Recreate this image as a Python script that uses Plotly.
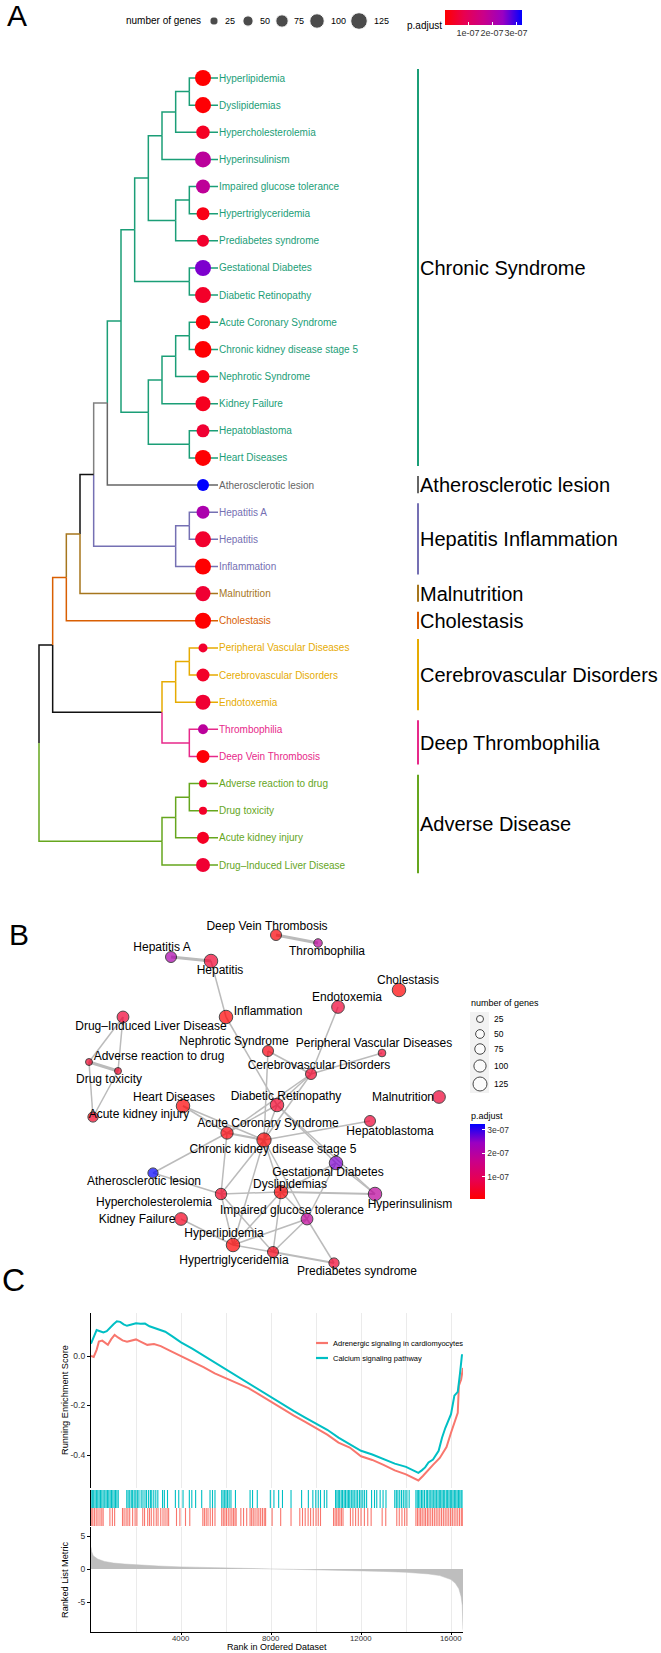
import plotly.graph_objects as go

W, H = 661, 1653
FONT = "Liberation Sans, Arial, sans-serif"

# ---------------- Panel A / B data ----------------
terms = ["Hyperlipidemia", "Dyslipidemias", "Hypercholesterolemia", "Hyperinsulinism",
         "Impaired glucose tolerance", "Hypertriglyceridemia", "Prediabetes syndrome",
         "Gestational Diabetes", "Diabetic Retinopathy", "Acute Coronary Syndrome",
         "Chronic kidney disease stage 5", "Nephrotic Syndrome", "Kidney Failure",
         "Hepatoblastoma", "Heart Diseases", "Atherosclerotic lesion", "Hepatitis A",
         "Hepatitis", "Inflammation", "Malnutrition", "Cholestasis",
         "Peripheral Vascular Diseases", "Cerebrovascular Disorders", "Endotoxemia",
         "Thrombophilia", "Deep Vein Thrombosis", "Adverse reaction to drug",
         "Drug toxicity", "Acute kidney injury", "Drug–Induced Liver Disease"]
gene_count = [118, 118, 88, 118, 94, 82, 71, 118, 118, 100, 129, 82, 106, 82, 118,
              71, 82, 118, 118, 106, 118, 35, 82, 106, 47, 82, 24, 24, 71, 94]
p_adjust = [4e-09, 8e-09, 4.0e-08, 1.9e-07, 1.85e-07, 2.5e-08, 5e-08, 2.6e-07, 4.5e-08,
            1.2e-08, 6e-09, 2e-08, 3.5e-08, 5.5e-08, 6e-09, 3.25e-07, 2.15e-07, 5e-08,
            5e-09, 5.5e-08, 5e-09, 5e-08, 4.5e-08, 5.5e-08, 1.9e-07, 1e-08, 4.5e-08,
            4.5e-08, 4e-08, 5.5e-08]
term_cluster = [0] * 15 + [1] + [2] * 3 + [3] + [4] + [5] * 3 + [6] * 2 + [7] * 4

cluster_names = ["Chronic Syndrome", "Atherosclerotic lesion", "Hepatitis Inflammation",
                 "Malnutrition", "Cholestasis", "Cerebrovascular Disorders",
                 "Deep Thrombophilia", "Adverse Disease"]
cluster_colors = ["#1B9E77", "#666666", "#7570B3", "#A6761D", "#D95F02", "#E6AB02",
                  "#E7298A", "#66A61E"]
BLACK, GREY = "#111111", "#808080"

# hierarchical merges: node, child a, child b, depth level, colour of node's branch
TIP_LEVEL = 12
merges = [
    ("n1", "Hyperlipidemia", "Dyslipidemias", 11, cluster_colors[0]),
    ("n2", "n1", "Hypercholesterolemia", 10, cluster_colors[0]),
    ("n3", "n2", "Hyperinsulinism", 9, cluster_colors[0]),
    ("n4", "Impaired glucose tolerance", "Hypertriglyceridemia", 11, cluster_colors[0]),
    ("n5", "n4", "Prediabetes syndrome", 10, cluster_colors[0]),
    ("n6", "n3", "n5", 8, cluster_colors[0]),
    ("n7", "Gestational Diabetes", "Diabetic Retinopathy", 11, cluster_colors[0]),
    ("n8", "n6", "n7", 7, cluster_colors[0]),
    ("n9", "Acute Coronary Syndrome", "Chronic kidney disease stage 5", 11, cluster_colors[0]),
    ("n10", "n9", "Nephrotic Syndrome", 10, cluster_colors[0]),
    ("n11", "n10", "Kidney Failure", 9, cluster_colors[0]),
    ("n12", "Hepatoblastoma", "Heart Diseases", 11, cluster_colors[0]),
    ("n13", "n11", "n12", 8, cluster_colors[0]),
    ("n14", "n8", "n13", 6, cluster_colors[0]),
    ("n15", "n14", "Atherosclerotic lesion", 5, GREY),
    ("n16", "Hepatitis A", "Hepatitis", 11, cluster_colors[2]),
    ("n17", "n16", "Inflammation", 10, cluster_colors[2]),
    ("n18", "n15", "n17", 4, BLACK),
    ("n19", "n18", "Malnutrition", 3, cluster_colors[3]),
    ("n20", "n19", "Cholestasis", 2, cluster_colors[4]),
    ("n21", "Peripheral Vascular Diseases", "Cerebrovascular Disorders", 11, cluster_colors[5]),
    ("n22", "n21", "Endotoxemia", 10, cluster_colors[5]),
    ("n23", "Thrombophilia", "Deep Vein Thrombosis", 11, cluster_colors[6]),
    ("n24", "n22", "n23", 9, BLACK),
    ("n25", "n20", "n24", 1, BLACK),
    ("n26", "Adverse reaction to drug", "Drug toxicity", 11, cluster_colors[7]),
    ("n27", "n26", "Acute kidney injury", 10, cluster_colors[7]),
    ("n28", "n27", "Drug–Induced Liver Disease", 9, cluster_colors[7]),
    ("root", "n25", "n28", 0, BLACK),
]

# network layout (panel B) coordinates and repelled label coordinates
net_x = [173, 221, 161, 315, 247, 213, 274, 276, 217, 167, 204, 208, 121, 310, 123,
         93, 111, 151, 166, 379, 339, 322, 251, 278, 258, 216, 29, 58, 33, 63]
net_y = [330, 277, 279, 279, 304, 337, 348, 248, 190, 218, 225, 136, 304, 206, 191,
         258, 42, 46, 102, 182, 75, 138, 159, 92, 28, 20, 147, 156, 202, 102]
lab_x = [164, 230, 94, 350, 232, 174, 297, 268, 226, 208, 213, 174, 77, 330, 114,
         84, 102, 160, 208, 343, 348, 314, 259, 287, 267, 207, 99, 49, 79, 91]
lab_y = [319, 270, 288, 290, 296, 346, 357, 258, 182, 209, 235, 127, 305, 217, 183,
         267, 33, 56, 97, 183, 66, 129, 151, 83, 37, 12, 142, 165, 200, 112]
edges = [
    ("Deep Vein Thrombosis", "Thrombophilia", 3.2), ("Hepatitis A", "Hepatitis", 3.2),
    ("Adverse reaction to drug", "Drug toxicity", 3.2),
    ("Dyslipidemias", "Hyperinsulinism", 2.2), ("Hypertriglyceridemia", "Prediabetes syndrome", 2.2),
    ("Acute Coronary Syndrome", "Chronic kidney disease stage 5", 2.2),
    ("Hepatitis", "Inflammation", 1.5), ("Inflammation", "Diabetic Retinopathy", 1.5),
    ("Drug–Induced Liver Disease", "Adverse reaction to drug", 1.5),
    ("Drug–Induced Liver Disease", "Drug toxicity", 1.5),
    ("Adverse reaction to drug", "Acute kidney injury", 1.5), ("Drug toxicity", "Acute kidney injury", 1.5),
    ("Endotoxemia", "Cerebrovascular Disorders", 1.5), ("Nephrotic Syndrome", "Cerebrovascular Disorders", 1.5),
    ("Peripheral Vascular Diseases", "Cerebrovascular Disorders", 1.5),
    ("Cerebrovascular Disorders", "Diabetic Retinopathy", 1.5),
    ("Cerebrovascular Disorders", "Acute Coronary Syndrome", 1.5),
    ("Cerebrovascular Disorders", "Chronic kidney disease stage 5", 1.5),
    ("Nephrotic Syndrome", "Chronic kidney disease stage 5", 1.5),
    ("Heart Diseases", "Acute Coronary Syndrome", 1.5), ("Heart Diseases", "Chronic kidney disease stage 5", 1.5),
    ("Diabetic Retinopathy", "Acute Coronary Syndrome", 1.5),
    ("Diabetic Retinopathy", "Chronic kidney disease stage 5", 1.5),
    ("Diabetic Retinopathy", "Gestational Diabetes", 1.5), ("Diabetic Retinopathy", "Hyperinsulinism", 1.5),
    ("Chronic kidney disease stage 5", "Hepatoblastoma", 1.5),
    ("Atherosclerotic lesion", "Acute Coronary Syndrome", 1.5),
    ("Atherosclerotic lesion", "Hypercholesterolemia", 1.5),
    ("Hypercholesterolemia", "Acute Coronary Syndrome", 1.5),
    ("Hypercholesterolemia", "Chronic kidney disease stage 5", 1.5),
    ("Hypercholesterolemia", "Dyslipidemias", 1.5), ("Hypercholesterolemia", "Hyperlipidemia", 1.5),
    ("Hypercholesterolemia", "Hypertriglyceridemia", 1.5), ("Kidney Failure", "Hyperlipidemia", 1.5),
    ("Dyslipidemias", "Hyperlipidemia", 1.5), ("Dyslipidemias", "Hypertriglyceridemia", 1.5),
    ("Dyslipidemias", "Impaired glucose tolerance", 1.5),
    ("Dyslipidemias", "Chronic kidney disease stage 5", 1.5), ("Dyslipidemias", "Gestational Diabetes", 1.5),
    ("Impaired glucose tolerance", "Hypertriglyceridemia", 1.5),
    ("Impaired glucose tolerance", "Prediabetes syndrome", 1.5),
    ("Impaired glucose tolerance", "Hyperlipidemia", 1.5),
    ("Impaired glucose tolerance", "Gestational Diabetes", 1.5),
    ("Impaired glucose tolerance", "Chronic kidney disease stage 5", 1.5),
    ("Gestational Diabetes", "Hyperinsulinism", 1.5), ("Hyperlipidemia", "Hypertriglyceridemia", 1.5),
    ("Hyperlipidemia", "Chronic kidney disease stage 5", 1.5),
]

size_legend_counts = [25, 50, 75, 100, 125]
padj_ticks = [1e-07, 2e-07, 3e-07]
padj_ticktext = ["1e-07", "2e-07", "3e-07"]

# ---------------- Panel C data (GSEA) ----------------
N_GENES = 16533
rank_ticks = [4000, 8000, 12000, 16000]
cal_rank = [0, 100, 250, 400, 550, 700, 850, 1000, 1150, 1300, 1450, 1600, 1800, 2000, 2200,
            2400, 2600, 2800, 3000, 3300, 3600, 4000, 4500, 5000, 5500, 6000, 6500, 7000,
            7500, 8000, 8500, 9000, 9500, 10000, 10500, 11000, 11500, 12000, 12500, 13000,
            13500, 14000, 14300, 14550, 14700, 14850, 15000, 15200, 15450, 15600, 15750,
            16000, 16150, 16300, 16400, 16490]
cal_es = [0.05, 0.075, 0.105, 0.100, 0.095, 0.100, 0.115, 0.128, 0.140, 0.138, 0.128, 0.122,
          0.127, 0.132, 0.130, 0.131, 0.120, 0.114, 0.110, 0.098, 0.080, 0.055, 0.030, 0.002,
          -0.026, -0.057, -0.085, -0.113, -0.140, -0.167, -0.195, -0.222, -0.248, -0.272,
          -0.298, -0.330, -0.355, -0.383, -0.398, -0.415, -0.435, -0.448, -0.462, -0.472,
          -0.462, -0.450, -0.430, -0.418, -0.383, -0.330, -0.290, -0.235, -0.160, -0.145,
          -0.070, 0.007]
adr_rank = [0, 120, 250, 350, 500, 650, 750, 900, 1050, 1200, 1400, 1600, 1800, 2000, 2200,
            2500, 2800, 3100, 3500, 4000, 4500, 5000, 5500, 6000, 6500, 7000, 7500, 8000,
            8500, 9000, 9500, 10000, 10500, 11000, 11500, 12000, 12500, 13000, 13500, 14000,
            14300, 14550, 14750, 15000, 15200, 15500, 15800, 16000, 16150, 16300, 16350,
            16450, 16533]
adr_es = [0.0, -0.004, 0.025, 0.058, 0.062, 0.050, 0.045, 0.068, 0.085, 0.075, 0.063, 0.058,
          0.062, 0.067, 0.058, 0.045, 0.048, 0.040, 0.022, 0.000, -0.022, -0.045, -0.070,
          -0.090, -0.108, -0.130, -0.157, -0.185, -0.212, -0.240, -0.265, -0.290, -0.318,
          -0.350, -0.370, -0.405, -0.420, -0.440, -0.462, -0.478, -0.490, -0.503, -0.485,
          -0.458, -0.440, -0.412, -0.368, -0.310, -0.270, -0.230, -0.120, -0.095, -0.048]
cal_hits = [5, 60, 120, 180, 240, 300, 360, 420, 480, 540, 610, 670, 730, 790, 850, 910, 970,
            1030, 1090, 1150, 1210, 1590, 1650, 1720, 1790, 1850, 1920, 1990, 2060, 2130, 2230,
            2310, 2400, 2470, 2560, 2640, 2700, 2790, 2880, 2970, 3180, 3260, 3400, 3750, 3900,
            4090, 4370, 4480, 4650, 4920, 5290, 5400, 5510, 5810, 5870, 5940, 6000, 6070, 6140,
            6220, 6420, 7070, 7180, 7390, 7970, 8130, 8340, 8510, 8890, 9360, 9660, 9860, 9990,
            10100, 10200, 10370, 10480, 10870, 10930, 10990, 11050, 11120, 11180, 11250, 11310,
            11380, 11440, 11500, 11570, 11640, 11700, 11780, 11850, 11930, 12000, 12080, 12160,
            12250, 12470, 12600, 12700, 12850, 12980, 13110, 13500, 13570, 13640, 13720, 13800,
            13880, 13960, 14040, 14140, 14440, 14500, 14560, 14620, 14690, 14750, 14820, 14900,
            14960, 15030, 15100, 15160, 15230, 15290, 15350, 15420, 15480, 15540, 15600, 15660,
            15720, 15790, 15850, 15910, 15970, 16030, 16090, 16150, 16210, 16270, 16330, 16390,
            16450, 16490]
adr_hits = [10, 80, 150, 230, 310, 400, 480, 540, 840, 950, 1050, 1400, 1470, 1560, 1640, 1720,
            1850, 1960, 2040, 2300, 2380, 2520, 2600, 2680, 2790, 2900, 2980, 3100, 3200, 3290,
            3380, 3450, 3800, 3950, 4200, 4390, 4970, 5040, 5120, 5200, 5300, 5400, 5510, 5810,
            5880, 5950, 6020, 6100, 6180, 6260, 6330, 6400, 6450, 6660, 6780, 6920, 7070, 7140,
            7210, 7290, 7380, 7460, 7540, 7620, 7700, 7760, 8050, 8430, 8890, 9280, 9400, 9520,
            9650, 9760, 9880, 10000, 10100, 10200, 10780, 10850, 10920, 10990, 11060, 11130,
            11200, 11530, 11640, 11760, 11880, 12000, 12150, 12300, 12450, 12940, 13100, 13590,
            13700, 13820, 13940, 14040, 14440, 14510, 14580, 14650, 14720, 14800, 14870, 14950,
            15020, 15100, 15180, 15260, 15340, 15420, 15500, 15580, 15660, 15740, 15820, 15900,
            15980, 16060, 16140, 16220, 16300, 16380, 16460, 16520]
metric_rank = [0, 30, 100, 300, 600, 1000, 1500, 2000, 3000, 4000, 5000, 6000, 7000, 8000,
               9000, 10000, 11000, 12000, 13000, 14000, 14500, 15000, 15500, 15800, 16000,
               16200, 16350, 16450, 16500, 16533]
metric_val = [3.3, 2.6, 2.0, 1.5, 1.15, 0.9, 0.75, 0.62, 0.45, 0.32, 0.22, 0.14, 0.07, 0.01,
              -0.05, -0.11, -0.18, -0.26, -0.36, -0.5, -0.6, -0.75, -1.0, -1.3, -1.6, -2.2,
              -3.0, -4.2, -5.5, -9.2]
gsea_names = ["Adrenergic signaling in cardiomyocytes", "Calcium signaling pathway"]
gsea_colors = ["#F8766D", "#00BFC4"]

# ---------------- scales ----------------
CS = [[0, "#FF0000"], [0.25, "#E80050"], [0.5, "#CA0089"], [0.75, "#9A00C2"], [1, "#0000FF"]]


def tree_size(c):
    return 6 + 0.085 * c


def net_size(c):
    return 5.25 + 0.07 * c


def lin(p, pa, va, pb, vb):
    return va + (p - pa) * (vb - va) / (pb - pa)


def xdom(p0, p1):
    return [p0 / W, p1 / W]


def ydom(p_top, p_bot):
    return [1 - p_bot / H, 1 - p_top / H]


fig = go.Figure()

# ---------------- Panel A: tree ----------------
pos = {t: (TIP_LEVEL, i) for i, t in enumerate(terms)}
node_col = {t: cluster_colors[term_cluster[i]] for i, t in enumerate(terms)}
for node, a, b, lvl, col in merges:
    pos[node] = (lvl, (pos[a][1] + pos[b][1]) / 2)
    node_col[node] = col
LABEL_LEVEL = 13.1
segs = {}
for node, a, b, lvl, col in merges:
    for ch in (a, b):
        cx, cy = pos[ch]
        xend = LABEL_LEVEL if ch in terms else cx
        sx, sy = segs.setdefault(node_col[ch], ([], []))
        sx += [lvl, lvl, xend, None]
        sy += [pos[node][1], cy, cy, None]
for col, (sx, sy) in segs.items():
    fig.add_trace(go.Scatter(x=sx, y=sy, mode="lines", line=dict(color=col, width=1.5),
                             hoverinfo="skip", xaxis="x", yaxis="y"))

BAR_LEVEL = lin(418, 39, 0, 203, TIP_LEVEL)
GROUP_TEXT_LEVEL = lin(419, 39, 0, 203, TIP_LEVEL)
for k, name in enumerate(cluster_names):
    idx = [i for i, c in enumerate(term_cluster) if c == k]
    fig.add_trace(go.Scatter(x=[BAR_LEVEL, BAR_LEVEL], y=[min(idx) - 0.33, max(idx) + 0.3],
                             mode="lines", line=dict(color=cluster_colors[k], width=2),
                             xaxis="x", yaxis="y", hoverinfo="skip"))
    fig.add_annotation(x=GROUP_TEXT_LEVEL, y=(min(idx) + max(idx)) / 2, xref="x", yref="y",
                       text=name, showarrow=False, xanchor="left", yanchor="middle",
                       borderpad=0, font=dict(size=20, color="black", family=FONT))

fig.add_trace(go.Scatter(x=[TIP_LEVEL] * len(terms), y=list(range(len(terms))), mode="markers",
                         marker=dict(size=[tree_size(c) for c in gene_count], color=p_adjust,
                                     coloraxis="coloraxis", line=dict(width=0), opacity=1),
                         xaxis="x", yaxis="y", text=terms))
for i, t in enumerate(terms):
    fig.add_annotation(x=LABEL_LEVEL, y=i, xref="x", yref="y", text=t, showarrow=False,
                       xanchor="left", yanchor="middle", borderpad=0,
                       font=dict(size=10, color=cluster_colors[term_cluster[i]], family=FONT))

# ---------------- Panel B: network ----------------
idx_of = {t: i for i, t in enumerate(terms)}
by_w = {}
for a, b, w in edges:
    ex, ey = by_w.setdefault(w, ([], []))
    ex += [net_x[idx_of[a]], net_x[idx_of[b]], None]
    ey += [net_y[idx_of[a]], net_y[idx_of[b]], None]
for w, (ex, ey) in by_w.items():
    fig.add_trace(go.Scatter(x=ex, y=ey, mode="lines", line=dict(color="#BBBBBB", width=w),
                             xaxis="x2", yaxis="y2", hoverinfo="skip"))
fig.add_trace(go.Scatter(x=net_x, y=net_y, mode="markers",
                         marker=dict(size=[net_size(c) for c in gene_count], color=p_adjust,
                                     coloraxis="coloraxis2", line=dict(color="black", width=1)),
                         xaxis="x2", yaxis="y2", text=terms))
fig.add_trace(go.Scatter(x=lab_x, y=lab_y, mode="text", text=terms, textposition="middle center",
                         textfont=dict(size=12, color="black", family=FONT), cliponaxis=False,
                         xaxis="x2", yaxis="y2", hoverinfo="skip"))

# ---------------- Panel C: GSEA ----------------
fig.add_trace(go.Scatter(x=adr_rank, y=adr_es, mode="lines", line=dict(color=gsea_colors[0], width=2),
                         xaxis="x3", yaxis="y3"))
fig.add_trace(go.Scatter(x=cal_rank, y=cal_es, mode="lines", line=dict(color=gsea_colors[1], width=2),
                         xaxis="x3", yaxis="y3"))
for hits, col, (y0, y1) in [(cal_hits, gsea_colors[1], (1, 2)), (adr_hits, gsea_colors[0], (0, 1))]:
    hx, hy = [], []
    for h in hits:
        hx += [h, h, None]
        hy += [y0, y1, None]
    fig.add_trace(go.Scatter(x=hx, y=hy, mode="lines", line=dict(color=col, width=1.1),
                             xaxis="x4", yaxis="y4", hoverinfo="skip"))
fig.add_trace(go.Scatter(x=metric_rank, y=metric_val, mode="lines", fill="tozeroy",
                         fillcolor="#BEBEBE", line=dict(color="#BEBEBE", width=0.5),
                         xaxis="x5", yaxis="y5"))
for t in rank_ticks:
    fig.add_annotation(x=t, y=1 - 1638 / H, xref="x5", yref="paper", text=str(t),
                       showarrow=False, xanchor="center", yanchor="middle", borderpad=0,
                       font=dict(size=7.8, color="#333333", family=FONT))

# ---------------- legends (decor overlay, pixel space) ----------------
fig.add_trace(go.Scatter(x=[214, 248, 282, 317, 359], y=[21] * 5, mode="markers",
                         marker=dict(size=[tree_size(c) for c in size_legend_counts], color="black"),
                         xaxis="x6", yaxis="y6", hoverinfo="skip"))
fig.add_trace(go.Scatter(x=[480] * 5, y=[1019, 1034, 1049, 1066, 1084], mode="markers",
                         marker=dict(size=[net_size(c) for c in size_legend_counts], color="white",
                                     line=dict(color="black", width=1)),
                         xaxis="x6", yaxis="y6", hoverinfo="skip"))


def ann(px, py, text, size, xanchor="center", color="black", angle=0):
    fig.add_annotation(x=px / W, y=1 - py / H, xref="paper", yref="paper", text=text,
                       showarrow=False, xanchor=xanchor, yanchor="middle", textangle=angle,
                       borderpad=0, font=dict(size=size, color=color, family=FONT))


ann(17, 16, "A", 30)
ann(19, 934, "B", 30)
ann(13, 1280, "C", 32)
ann(202, 21, "number of genes", 10, "right")
for px, c in zip([230, 265, 299, 338, 381], size_legend_counts):
    ann(px, 21, str(c), 9)
ann(424, 25, "p.adjust", 10)
ann(470, 1003, "number of genes", 9, "left")
for py, c in zip([1019, 1034, 1049, 1066, 1084], size_legend_counts):
    ann(493, py, str(c), 8.5, "left")
ann(470, 1116, "p.adjust", 9, "left")
ann(65, 1400, "Running Enrichment Score", 9.2, angle=-90)
ann(65, 1580, "Ranked List Metric", 9.2, angle=-90)
ann(277, 1647, "Rank in Ordered Dataset", 9)
for py, name, col in [(1343, gsea_names[0], gsea_colors[0]), (1358, gsea_names[1], gsea_colors[1])]:
    fig.add_shape(type="line", x0=316 / W, x1=328 / W, y0=1 - py / H, y1=1 - py / H,
                  xref="paper", yref="paper", line=dict(color=col, width=2.2))
    ann(332, py, name, 7.5, "left")
fig.add_shape(type="rect", x0=470 / W, x1=489 / W, y0=1 - 1093 / H, y1=1 - 1012 / H,
              xref="paper", yref="paper", fillcolor="#F2F2F2", line=dict(width=0), layer="below")

# ---------------- axes ----------------
hidden = dict(visible=False, showgrid=False, zeroline=False)
TREE_TOP, TREE_BOT = 45, 885
NET_L, NET_R, NET_T, NET_B = 40, 470, 905, 1290
GX0, GX1 = 91, 463
axis_line = dict(showline=True, linecolor="black", linewidth=1.2, zeroline=False, showgrid=False,
                 ticks="outside", ticklen=3, tickcolor="black",
                 tickfont=dict(size=8.5, color="#333333", family=FONT))
grid_x = dict(range=[0, N_GENES], domain=xdom(GX0, GX1), showgrid=True, gridcolor="#EBEBEB",
              gridwidth=1.3, tick0=0, dtick=2000, zeroline=False, showticklabels=False, ticks="")

fig.update_layout(
    width=W, height=H, autosize=False, margin=dict(l=0, r=0, t=0, b=0),
    paper_bgcolor="white", plot_bgcolor="rgba(0,0,0,0)", showlegend=False,
    font=dict(family=FONT),
    xaxis=dict(domain=[0, 1], range=[lin(0, 39, 0, 203, TIP_LEVEL), lin(W, 39, 0, 203, TIP_LEVEL)],
               anchor="y", **hidden),
    yaxis=dict(domain=ydom(TREE_TOP, TREE_BOT),
               range=[lin(TREE_BOT, 78, 0, 865, 29), lin(TREE_TOP, 78, 0, 865, 29)],
               anchor="x", **hidden),
    xaxis2=dict(domain=xdom(NET_L, NET_R), range=[NET_L - 60, NET_R - 60], anchor="y2", **hidden),
    yaxis2=dict(domain=ydom(NET_T, NET_B), range=[NET_B - 915, NET_T - 915], anchor="x2", **hidden),
    xaxis3=dict(anchor="y3", **grid_x),
    yaxis3=dict(domain=ydom(1313, 1488), anchor="x3",
                range=[lin(1488, 1356, 0, 1455, -0.4), lin(1313, 1356, 0, 1455, -0.4)],
                tickvals=[0.0, -0.2, -0.4], ticktext=["0.0", "-0.2", "-0.4"], **axis_line),
    xaxis4=dict(anchor="y4", **grid_x),
    yaxis4=dict(domain=ydom(1490, 1526), anchor="x4", range=[0, 2], showline=True,
                linecolor="black", linewidth=1.2, showticklabels=False, ticks="",
                showgrid=False, zeroline=False),
    xaxis5=dict(anchor="y5", range=[0, N_GENES], domain=xdom(GX0, GX1), tickmode="array",
                tickvals=rank_ticks, showticklabels=False,
                showline=True, linecolor="black", linewidth=1.2, ticks="outside", ticklen=2,
                tickcolor="black", showgrid=True, gridcolor="#EBEBEB", gridwidth=1.3,
                zeroline=False,
                minor=dict(dtick=2000, tick0=0, showgrid=True, gridcolor="#EBEBEB", gridwidth=1.3,
                           ticks="")),
    yaxis5=dict(domain=ydom(1527, 1632), anchor="x5",
                range=[lin(1632, 1569, 0, 1536, 5), lin(1527, 1569, 0, 1536, 5)],
                tickvals=[5, 0, -5], ticktext=["5", "0", "-5"], **axis_line),
    xaxis6=dict(domain=[0, 1], range=[0, W], anchor="y6", **hidden),
    yaxis6=dict(domain=[0, 1], range=[H, 0], anchor="x6", **hidden),
    coloraxis=dict(colorscale=CS, cmin=min(p_adjust), cmax=max(p_adjust),
                   colorbar=dict(orientation="h", x=(445 + 522) / 2 / W, xanchor="center",
                                 y=1 - 10 / H, yanchor="top", len=77, lenmode="pixels",
                                 thickness=15, thicknessmode="pixels", xpad=0, ypad=0,
                                 title=dict(text="", side="right"),
                                 outlinewidth=0, tickmode="array", tickvals=padj_ticks,
                                 ticktext=padj_ticktext, tickangle=0,
                                 ticks="inside", ticklen=3, tickcolor="white",
                                 tickfont=dict(size=9, color="#333333", family=FONT))),
    coloraxis2=dict(colorscale=CS, cmin=min(p_adjust), cmax=max(p_adjust),
                    colorbar=dict(x=470 / W, xanchor="left", y=1 - 1124 / H, yanchor="top",
                                  len=75, lenmode="pixels", thickness=15, thicknessmode="pixels",
                                  xpad=0, ypad=0, outlinewidth=0, tickmode="array",
                                  tickvals=padj_ticks, ticktext=padj_ticktext, ticks="inside",
                                  ticklen=3, tickcolor="white",
                                  tickfont=dict(size=8.5, color="#333333", family=FONT))),
)

# remove the browser's default 8px page margin so the figure sits at the window origin
RESET_PAGE_MARGIN = ("document.documentElement.style.margin='0';"
                     "document.body.style.margin='0';document.body.style.padding='0';"
                     "document.body.style.overflow='hidden';")
fig.write_html("out.html", config={"displayModeBar": False}, post_script=RESET_PAGE_MARGIN)
